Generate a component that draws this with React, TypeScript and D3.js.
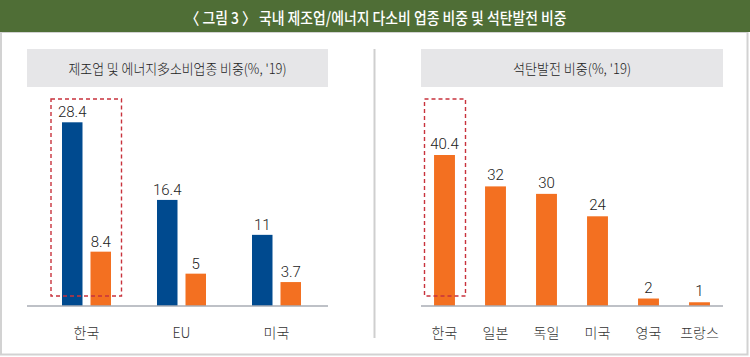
import React from "react";
import * as d3 from "d3";

const chartTitle = "〈 그림 3 〉 국내 제조업/에너지 다소비 업종 비중 및 석탄발전 비중";
const leftTitle = "제조업 및 에너지多소비업종 비중(%, '19)";
const rightTitle = "석탄발전 비중(%, '19)";

const leftCategories = ["한국", "EU", "미국"];
const manufacturingShare = [28.4, 16.4, 11];
const energyIntensiveShare = [8.4, 5, 3.7];

const rightCategories = ["한국", "일본", "독일", "미국", "영국", "프랑스"];
const coalShare = [40.4, 32, 30, 24, 2, 1];

const BLUE = "#004a8f";
const ORANGE = "#f37021";
const FONT = "'Noto Sans CJK KR', 'Noto Sans', sans-serif";
const NUM_FONT = "Roboto, 'Noto Sans', sans-serif";

export default function App() {
  const W = 750;
  const H = 357;
  const baseY = 306;

  // Left panel scales
  const xL = d3.scaleBand<string>().domain(leftCategories).range([39, 324]);
  const yL = d3.scaleLinear().domain([0, 28.4]).range([baseY, 122.3]);
  const barW = 20.5;
  const gap = 8;

  // Right panel scales
  const xR = d3
    .scaleBand<string>()
    .domain(rightCategories)
    .range([419, 725])
    .paddingInner(0.59)
    .paddingOuter(0.295);
  const yR = d3.scaleLinear().domain([0, 40.4]).range([baseY, 155]);

  const dashed = { fill: "none", stroke: "#c8323c", strokeWidth: 1.4, strokeDasharray: "4 3" };
  const numStyle = { fontFamily: NUM_FONT, fontSize: 15, fill: "#222", fontWeight: 300 } as const;
  const catStyle = { fontSize: 14, fill: "#333", fontWeight: 300 } as const;

  return (
    <svg width={W} height={H} style={{ display: "block", position: "absolute", left: 0, top: 0 }} fontFamily={FONT} fontWeight={400}>
      <rect x={0} y={0} width={W} height={H} fill="#fff" />
      {/* frame */}
      <rect x={1} y={32} width={746.5} height={322.5} fill="none" stroke="#d2d2d2" strokeWidth={2} />
      {/* banner */}
      <rect x={0} y={0} width={W} height={32} fill="#4f6e36" />
      <text
        x={376}
        y={17}
        textAnchor="middle"
        dominantBaseline="central"
        fill="#fff"
        fontSize={16}
        fontWeight={500}
        textLength={381}
        lengthAdjust="spacingAndGlyphs"
      >
        {chartTitle}
      </text>

      {/* divider */}
      <line x1={374.5} x2={374.5} y1={49} y2={338} stroke="#cfcfcf" strokeWidth={2} />

      {/* Left panel */}
      <rect x={27} y={49} width={301} height={38} fill="#e6e6e8" />
      <text x={177.5} y={68} textAnchor="middle" dominantBaseline="central" fontSize={14} fill="#222" fontWeight={300}
        textLength={218} lengthAdjust="spacingAndGlyphs">
        {leftTitle}
      </text>
      {leftCategories.map((c, i) => {
        const cx = (xL(c) as number) + xL.bandwidth() / 2;
        const bx = cx - gap / 2 - barW;
        const ox = cx + gap / 2;
        const by = yL(manufacturingShare[i]);
        const oy = yL(energyIntensiveShare[i]);
        return (
          <g key={c}>
            <rect x={bx} y={by} width={barW} height={baseY - by} fill={BLUE} />
            <rect x={ox} y={oy} width={barW} height={baseY - oy} fill={ORANGE} />
            <text x={bx + barW / 2} y={by - 5} textAnchor="middle" {...numStyle}>
              {manufacturingShare[i]}
            </text>
            <text x={ox + barW / 2} y={oy - 5} textAnchor="middle" {...numStyle}>
              {energyIntensiveShare[i]}
            </text>
            <text x={cx} y={332} textAnchor="middle" dominantBaseline="central" {...catStyle}>
              {c}
            </text>
          </g>
        );
      })}
      <line x1={27} x2={328} y1={baseY} y2={baseY} stroke="#a9adb5" strokeWidth={1.5} />
      <rect x={51} y={99} width={70.5} height={197} {...dashed} />

      {/* Right panel */}
      <rect x={421} y={49} width={302} height={38} fill="#e6e6e8" />
      <text x={572} y={68} textAnchor="middle" dominantBaseline="central" fontSize={14} fill="#222" fontWeight={300}
        textLength={118} lengthAdjust="spacingAndGlyphs">
        {rightTitle}
      </text>
      {rightCategories.map((c, i) => {
        const x = xR(c) as number;
        const y = yR(coalShare[i]);
        const cx = x + xR.bandwidth() / 2;
        return (
          <g key={c}>
            <rect x={x} y={y} width={xR.bandwidth()} height={baseY - y} fill={ORANGE} />
            <text x={cx} y={y - 6} textAnchor="middle" {...numStyle}>
              {coalShare[i]}
            </text>
            <text x={cx} y={332} textAnchor="middle" dominantBaseline="central" {...catStyle}>
              {c}
            </text>
          </g>
        );
      })}
      <line x1={421} x2={723} y1={baseY} y2={baseY} stroke="#a9adb5" strokeWidth={1.5} />
      <rect x={424.5} y={99} width={41} height={197} {...dashed} />
    </svg>
  );
}
